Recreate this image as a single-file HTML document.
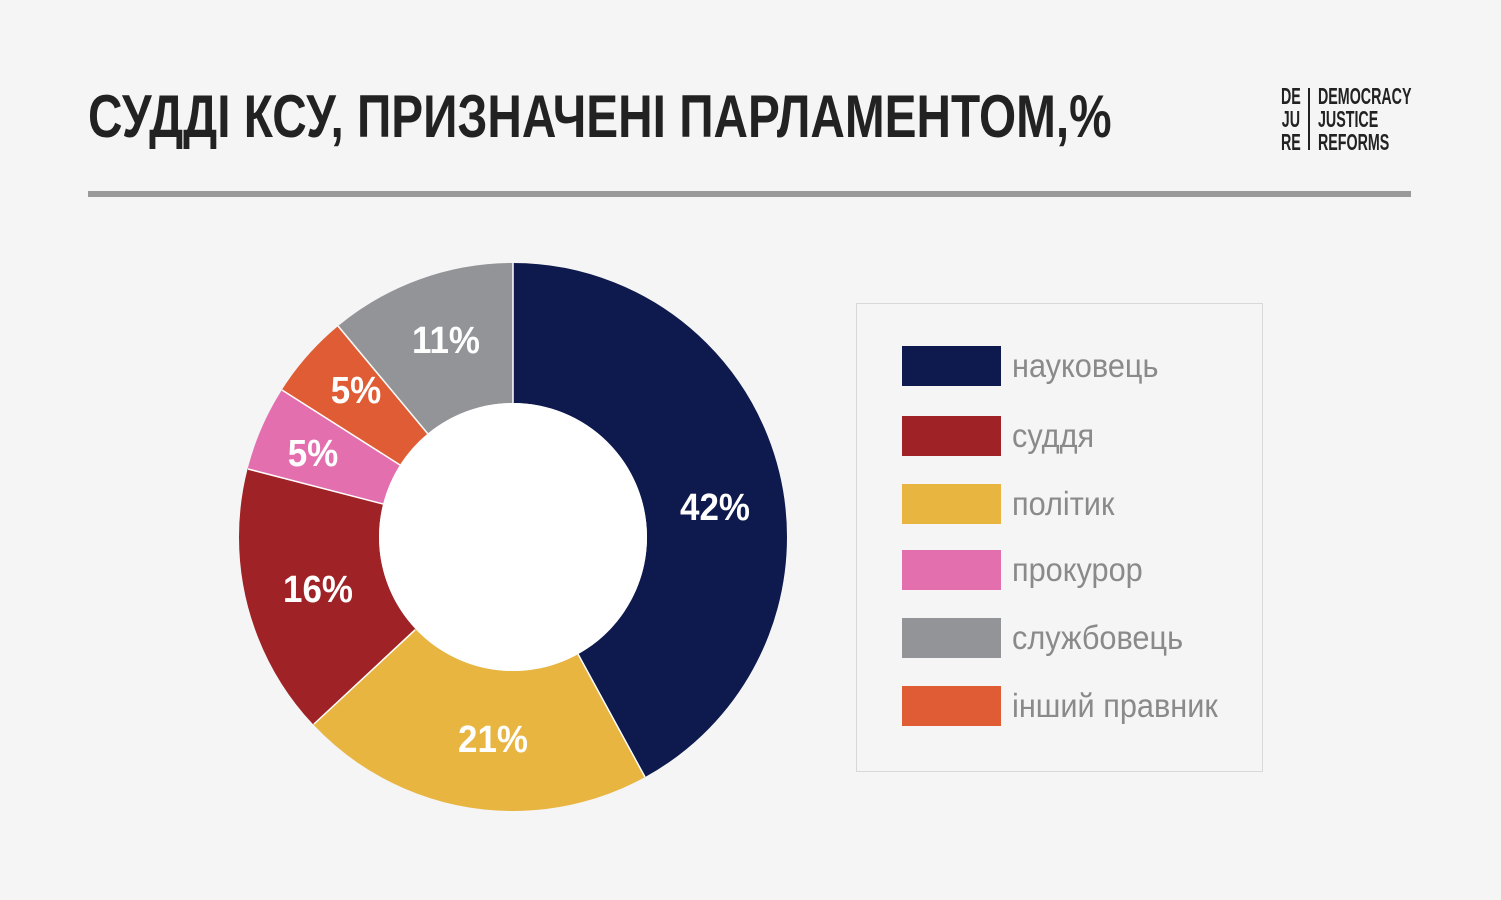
<!DOCTYPE html>
<html><head><meta charset="utf-8"><style>
body{margin:0;width:1501px;height:900px;background:#f5f5f5;position:relative;overflow:hidden;font-family:"Liberation Sans",sans-serif}
.t{position:absolute;left:88px;top:82px;font-size:60px;font-weight:bold;color:#222;white-space:nowrap;transform:scaleX(0.796);transform-origin:0 0}
.rule{position:absolute;left:88px;top:191px;width:1323px;height:6px;background:#9a9a9a}
.logo{position:absolute;font-weight:bold;font-size:23px;line-height:23px;color:#222;transform:scaleX(0.62);transform-origin:0 0;white-space:nowrap}
.leg{position:absolute;left:856px;top:303px;width:407px;height:469px;border:1px solid #d8d8d8;box-sizing:border-box}
.sw{position:absolute;left:902px;width:99px;height:40px}
.lt{position:absolute;left:1012px;font-size:33px;color:#8a8a8a;line-height:40px;transform:scaleX(0.93);transform-origin:0 0;white-space:nowrap}
</style></head><body>
<div class="t">СУДДІ КСУ, ПРИЗНАЧЕНІ ПАРЛАМЕНТОМ,%</div>
<div class="rule"></div>
<div class="logo" style="left:1281px;top:85px;text-align:center">DE<br>JU<br>RE</div>
<div style="position:absolute;left:1308px;top:88px;width:2px;height:62px;background:#222"></div>
<div class="logo" style="left:1318px;top:85px">DEMOCRACY<br>JUSTICE<br>REFORMS</div>
<svg style="position:absolute;left:0;top:0" width="1501" height="900">
<g transform="rotate(-90 513 537)" fill="none" stroke-width="140">
<circle cx="513" cy="537" r="204" stroke="#0e1a4d" stroke-dasharray="538.34 2000" stroke-dashoffset="0"/>
<circle cx="513" cy="537" r="204" stroke="#e8b541" stroke-dasharray="269.17 2000" stroke-dashoffset="-538.34"/>
<circle cx="513" cy="537" r="204" stroke="#9e2226" stroke-dasharray="205.08 2000" stroke-dashoffset="-807.51"/>
<circle cx="513" cy="537" r="204" stroke="#e46faf" stroke-dasharray="64.09 2000" stroke-dashoffset="-1012.59"/>
<circle cx="513" cy="537" r="204" stroke="#e05c35" stroke-dasharray="64.09 2000" stroke-dashoffset="-1076.68"/>
<circle cx="513" cy="537" r="204" stroke="#939498" stroke-dasharray="141 2000" stroke-dashoffset="-1140.77"/>
</g>
<circle cx="513" cy="537" r="134" fill="#fff"/>
<g stroke="#fff" stroke-width="1.5">
<line x1="513" y1="403" x2="513" y2="263"/>
<line x1="578" y1="654" x2="645" y2="777"/>
<line x1="415" y1="630" x2="314" y2="724"/>
<line x1="383" y1="504" x2="248" y2="469"/>
<line x1="400" y1="465" x2="282" y2="390"/>
<line x1="428" y1="434" x2="338" y2="326"/>
</g>
<g font-family="Liberation Sans,sans-serif" font-weight="bold" font-size="38" fill="#fff" text-anchor="middle">
<text x="715" y="520" transform="translate(715 0) scale(0.92 1) translate(-715 0)">42%</text>
<text x="493" y="752" transform="translate(493 0) scale(0.92 1) translate(-493 0)">21%</text>
<text x="318" y="602" transform="translate(318 0) scale(0.92 1) translate(-318 0)">16%</text>
<text x="313" y="466" transform="translate(313 0) scale(0.92 1) translate(-313 0)">5%</text>
<text x="356" y="403" transform="translate(356 0) scale(0.92 1) translate(-356 0)">5%</text>
<text x="446" y="353" transform="translate(446 0) scale(0.92 1) translate(-446 0)">11%</text>
</g>
</svg>
<div class="leg"></div>
<div class="sw" style="top:346px;background:#0e1a4d"></div><div class="lt" style="top:346px">науковець</div>
<div class="sw" style="top:416px;background:#9e2226"></div><div class="lt" style="top:416px">суддя</div>
<div class="sw" style="top:484px;background:#e8b541"></div><div class="lt" style="top:484px">політик</div>
<div class="sw" style="top:550px;background:#e46faf"></div><div class="lt" style="top:550px">прокурор</div>
<div class="sw" style="top:618px;background:#939498"></div><div class="lt" style="top:618px">службовець</div>
<div class="sw" style="top:686px;background:#e05c35"></div><div class="lt" style="top:686px">інший правник</div>
</body></html>
